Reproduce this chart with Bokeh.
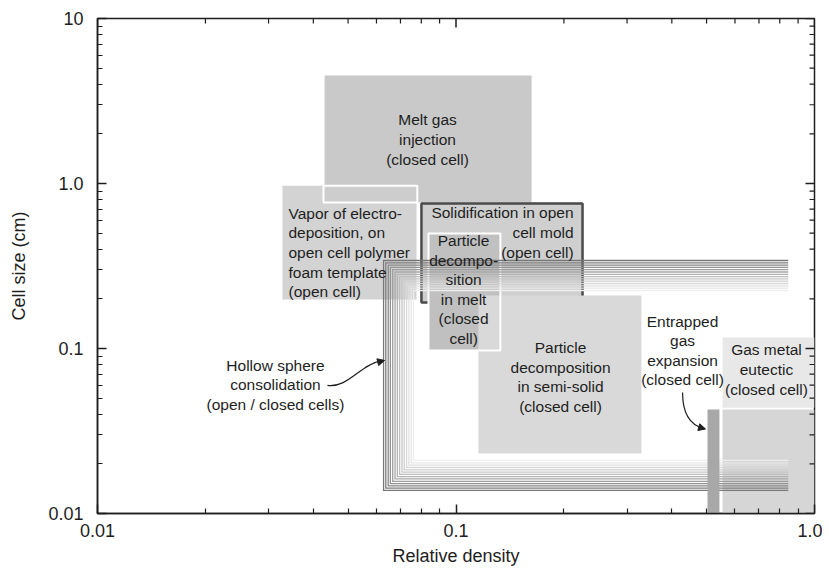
import math
from bokeh.plotting import figure
from bokeh.models import (FixedTicker, CustomJSTickFormatter, Arrow,
                          NormalHead, Range1d)
from bokeh.core.properties import value
from bokeh.embed import file_html
from bokeh.resources import INLINE

FONT = "Liberation Sans"
INK = "#1e1e1e"

# ---------------- data ----------------
x_ticks = [0.01, 0.1, 1.0]
x_tick_labels = ["0.01", "0.1", "1.0"]
x_minor = [0.02, 0.03, 0.04, 0.05, 0.06, 0.07, 0.08, 0.09,
           0.2, 0.3, 0.4, 0.5, 0.6, 0.7, 0.8, 0.9]
y_ticks = [0.01, 0.1, 1.0, 10.0]
y_tick_labels = ["0.01", "0.1", "1.0", "10"]
y_minor = [0.02, 0.03, 0.04, 0.05, 0.06, 0.07, 0.08, 0.09,
           0.2, 0.3, 0.4, 0.5, 0.6, 0.7, 0.8, 0.9,
           2, 3, 4, 5, 6, 7, 8, 9]
x_max = 1.0
y_max = 10.0

# process regions: relative density (x) and cell size in cm (y)
melt_gas = dict(left=0.043, right=0.1625, bottom=0.767, top=4.51)
vapor = dict(left=0.0328, right=0.0776, bottom=0.198, top=0.97)
melt_vapor_overlap = dict(left=0.0427, right=0.078, bottom=0.767, top=0.97)
solidification = dict(left=0.0801, right=0.2254, bottom=0.19, top=0.757)
particle_melt = dict(left=0.0838, right=0.133, bottom=0.0973, top=0.498)
particle_semisolid = dict(left=0.1155, right=0.329, bottom=0.0231, top=0.2094)
entrapped_gas = dict(left=0.503, right=0.543, bottom=0.01, top=0.0427)
gas_metal_label = dict(left=0.554, right=1.0, bottom=0.0438, top=0.1166)
gas_metal = dict(left=0.554, right=1.0, bottom=0.01, top=0.0427)

# hollow sphere consolidation: nested open brackets
hs_left = [0.0628, 0.0637, 0.0647, 0.0656, 0.0666, 0.0676, 0.0686,
           0.0696, 0.0707, 0.0717, 0.0728, 0.0739, 0.0750, 0.0761]
hs_top = [0.3415, 0.3307, 0.3202, 0.3101, 0.3003, 0.2908, 0.2816,
          0.2727, 0.2641, 0.2557, 0.2477, 0.2399, 0.2323, 0.2246]
hs_bottom = [0.01379, 0.01424, 0.01470, 0.01518, 0.01567, 0.01619, 0.01671,
             0.01726, 0.01782, 0.01840, 0.01900, 0.01962, 0.02025, 0.02096]
hs_right = 0.845
hs_colors = ["#777777", "#7d7d7d", "#878787", "#929292", "#9d9d9d", "#a8a8a8",
             "#b3b3b3", "#bdbdbd", "#c6c6c6", "#cfcfcf", "#d8d8d8", "#e0e0e0",
             "#e7e7e7", "#eeeeee"]

labels_center = ["Melt gas\ninjection\n(closed cell)",
                 "Particle\ndecompo-\nsition\nin melt\n(closed\ncell)",
                 "Particle\ndecomposition\nin semi-solid\n(closed cell)",
                 "Entrapped\ngas\nexpansion\n(closed cell)",
                 "Gas metal\neutectic\n(closed cell)",
                 "Hollow sphere\nconsolidation\n(open / closed cells)"]
labels_center_x = [0.0833, 0.105, 0.1957, 0.4285, 0.7345, 0.03136]
labels_center_y = [1.848, 0.2278, 0.0672, 0.0972, 0.0746, 0.0601]

label_left = ["Vapor of electro-\ndeposition, on\nopen cell polymer\nfoam template\n(open cell)"]
label_left_x = [0.0341]
label_left_y = [0.382]

label_right = ["Solidification in open\ncell mold\n(open cell)"]
label_right_x = [0.2128]
label_right_y = [0.5047]

# ---------------- figure ----------------
p = figure(x_axis_type="log", y_axis_type="log",
           x_range=Range1d(0.01, x_max), y_range=Range1d(0.01, y_max),
           frame_width=717, frame_height=495,
           min_border_left=97, min_border_top=18, min_border_right=8,
           min_border_bottom=30,
           output_backend="svg", toolbar_location=None)
p.grid.visible = False
p.outline_line_color = INK
p.outline_line_width = 1.5
p.background_fill_color = "white"
p.border_fill_color = "white"


def quad(box, fill, line=None, lw=0):
    p.quad(left=[box["left"]], right=[box["right"]],
           bottom=[box["bottom"]], top=[box["top"]],
           fill_color=fill, line_color=line, line_width=lw)


quad(vapor, "#d3d3d3")
quad(melt_gas, "#c9c9c9")
quad(melt_vapor_overlap, "#cdcdcd", "white", 2)
quad(solidification, "#cfcfcf", "#4a4a4a", 2.5)
quad(particle_melt, "#c0c0c0")
quad(particle_semisolid, "#d9d9d9")
p.quad(left=[particle_melt["left"]], right=[particle_melt["right"]],
       bottom=[particle_melt["bottom"]], top=[particle_melt["top"]],
       fill_color=None, line_color="white", line_width=2)
quad(gas_metal_label, "#e8e8e8")
quad(gas_metal, "#d6d6d6")

for i in range(len(hs_left)):
    p.line(x=[hs_right, hs_left[i], hs_left[i], hs_right],
           y=[hs_top[i], hs_top[i], hs_bottom[i], hs_bottom[i]],
           line_color=hs_colors[i], line_width=1.3, line_join="miter")

quad(entrapped_gas, "#a8a8a8")

common = dict(text_font=value(FONT), text_font_size="15.5px",
              text_color=INK, text_baseline="middle", text_line_height=1.15)
p.text(x=labels_center_x, y=labels_center_y, text=labels_center,
       text_align="center", **common)
p.text(x=label_left_x, y=label_left_y, text=label_left,
       text_align="left", **common)
p.text(x=label_right_x, y=label_right_y, text=label_right,
       text_align="right", **common)

# arrows
p.bezier(x0=[0.0438], y0=[0.0597], x1=[0.0618], y1=[0.0843],
         cx0=[0.0500], cy0=[0.0575], cx1=[0.0541], cy1=[0.0800],
         line_color=INK, line_width=1.2)
p.add_layout(Arrow(end=NormalHead(size=7, fill_color=INK, line_color=INK),
                   x_start=0.0608, y_start=0.0828, x_end=0.0632, y_end=0.0846,
                   line_color=INK, line_width=1.2))
p.bezier(x0=[0.4285], y0=[0.0541], x1=[0.4900], y1=[0.0328],
         cx0=[0.4285], cy0=[0.0409], cx1=[0.4451], cy1=[0.0346],
         line_color=INK, line_width=1.2)
p.add_layout(Arrow(end=NormalHead(size=7, fill_color=INK, line_color=INK),
                   x_start=0.4747, y_start=0.03343, x_end=0.4966, y_end=0.0325,
                   line_color=INK, line_width=1.2))

# ---------------- axes ----------------
FMT = ("for (let i = 0; i < tv.length; i++) {"
       " if (Math.abs(tick / tv[i] - 1) < 1e-6) return lb[i]; }"
       " return '';")


def style_axis(ax, ticks, minor, labels):
    ax.ticker = FixedTicker(ticks=ticks, minor_ticks=minor)
    ax.formatter = CustomJSTickFormatter(args=dict(tv=ticks, lb=labels),
                                         code=FMT)
    ax.major_tick_in = 9
    ax.major_tick_out = 0
    ax.minor_tick_in = 5
    ax.minor_tick_out = 0
    ax.axis_line_color = INK
    ax.axis_line_width = 1.5
    ax.major_tick_line_color = INK
    ax.major_tick_line_width = 1.5
    ax.minor_tick_line_color = INK
    ax.minor_tick_line_width = 1.2
    ax.major_label_text_font = FONT
    ax.major_label_text_font_size = "18px"
    ax.major_label_text_color = INK
    ax.axis_label_text_font = FONT
    ax.axis_label_text_font_size = "18px"
    ax.axis_label_text_font_style = "normal"
    ax.axis_label_text_color = INK


xa = p.xaxis[0]
ya = p.yaxis[0]
style_axis(xa, x_ticks, x_minor, x_tick_labels)
style_axis(ya, y_ticks, y_minor, y_tick_labels)
xa.axis_label = "Relative density"
ya.axis_label = "Cell size (cm)"
xa.major_label_standoff = 10
xa.axis_label_standoff = 6
ya.major_label_standoff = 14
ya.axis_label_standoff = 16

# inward ticks on the top and right edges of the frame
p.ray(x=x_ticks, y=[y_max] * len(x_ticks), length=9, length_units="screen",
      angle=-math.pi / 2, line_color=INK, line_width=1.5)
p.ray(x=x_minor, y=[y_max] * len(x_minor), length=5, length_units="screen",
      angle=-math.pi / 2, line_color=INK, line_width=1.2)
p.ray(x=[x_max] * len(y_ticks), y=y_ticks, length=9, length_units="screen",
      angle=math.pi, line_color=INK, line_width=1.5)
p.ray(x=[x_max] * len(y_minor), y=y_minor, length=5, length_units="screen",
      angle=math.pi, line_color=INK, line_width=1.2)

open("out.html", "w").write(file_html(p, INLINE))
